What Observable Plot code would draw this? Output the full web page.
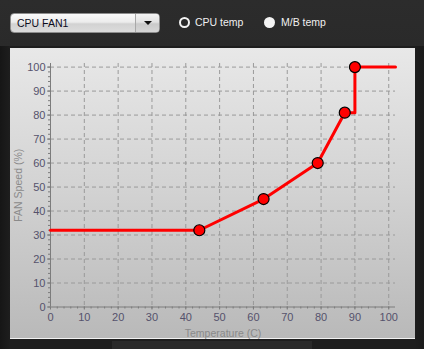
<!DOCTYPE html>
<html>
<head>
<meta charset="utf-8">
<script src="https://cdn.jsdelivr.net/npm/d3@7"></script>
<script src="https://cdn.jsdelivr.net/npm/@observablehq/plot@0.6"></script>
<style>
  html, body { margin: 0; padding: 0; }
  body {
    width: 424px; height: 349px; overflow: hidden; position: relative;
    background: linear-gradient(90deg, #161616 0px, #1e1e1e 10px, #1e1e1e 415px, #1a1a1a 424px);
    font-family: "Liberation Sans", Arial, sans-serif;
  }
  #top {
    position: absolute; left: 0; top: 0; width: 424px; height: 46px;
    background: linear-gradient(#2c2c2c, #2a2a2a);
  }
  #bottomStrip {
    position: absolute; left: 112px; top: 341px; width: 200px; height: 8px; background: #2a2a2a;
  }
  #combo {
    position: absolute; left: 10px; top: 13px; width: 150px; height: 20px;
    box-sizing: border-box; border: 1px solid #8d8d8d; border-radius: 4px;
    background: linear-gradient(#fbfbfb, #ececec 45%, #d2d2d2 55%, #dcdcdc);
    overflow: hidden;
  }
  #combo .label {
    position: absolute; left: 6px; top: 2px; font-size: 10.5px; color: #0c0c1c; line-height: 14px;
  }
  #combo .btn {
    position: absolute; left: 124px; top: 0; width: 25px; height: 18px;
    border-left: 1px solid #a8a8a8;
    background: linear-gradient(#f4f4f4, #e2e2e2 45%, #cacaca 55%, #d6d6d6);
  }
  #combo .arrow {
    position: absolute; left: 8px; top: 7px; width: 0; height: 0;
    border-left: 4px solid transparent; border-right: 4px solid transparent; border-top: 4px solid #111;
  }
  .radio {
    position: absolute; top: 17px; width: 11px; height: 11px; border-radius: 50%; box-sizing: border-box;
  }
  #r1 { left: 179px; border: 2px solid #f4f4f4; background: #2b2b2b; }
  #r2 { left: 264px; background: #f4f4f4; }
  .rlabel { position: absolute; top: 15px; font-size: 10.5px; color: #f0f0f0; line-height: 14px; }
  #panel {
    position: absolute; left: 10px; top: 48px; width: 405px; height: 290px;
    background: linear-gradient(#e8e8e8, #d2d2d2 50%, #b9b9b9);
    border-bottom: 1px solid #f2f2f2;
  }
  #panel svg { display: block; }
</style>
</head>
<body>
<div id="top"></div>
<div id="bottomStrip"></div>
<div id="combo"><span class="label">CPU FAN1</span><div class="btn"><div class="arrow"></div></div></div>
<div class="radio" id="r1"></div><span class="rlabel" style="left:195px">CPU temp</span>
<div class="radio" id="r2"></div><span class="rlabel" style="left:281px">M/B temp</span>
<div id="panel"></div>
<script>
// Fan curve control points (temperature °C, fan speed %)
const pointTemps = [44, 63, 79, 87, 90];
const pointSpeeds = [32, 45, 60, 81, 100];

// The drawn curve: flat start, the control points, a step up to 100 %, flat end
const curveTemps = [0, 44, 63, 79, 87, 90, 90, 102];
const curveSpeeds = [32, 32, 45, 60, 81, 81, 100, 100];

// Axis ticks
const majorTicks = [0, 10, 20, 30, 40, 50, 60, 70, 80, 90, 100];
const gridTicks = [10, 20, 30, 40, 50, 60, 70, 80, 90, 100];
const minorTicks = d3.range(0, 101, 2);

const xLabel = "Temperature (C)";
const yLabel = "FAN Speed (%)";

const points = pointTemps.map((t, i) => ({temp: t, speed: pointSpeeds[i]}));
const curve = curveTemps.map((t, i) => ({temp: t, speed: curveSpeeds[i]}));

const axisColor = "#7c7c7c";
const tickText = "#55526c";
const labelText = "#8a8a8a";
const gridStyle = {stroke: "#9a9a9a", strokeOpacity: 1, strokeDasharray: "4,3"};

const chart = Plot.plot({
  width: 405,
  height: 290,
  marginLeft: 40,
  marginRight: 20,
  marginTop: 15,
  marginBottom: 31.5,
  x: {domain: [0, 102]},
  y: {domain: [0, 101.5]},
  style: {background: "transparent", fontFamily: "Liberation Sans, Arial, sans-serif", fontSize: "11px", overflow: "visible"},
  marks: [
    Plot.gridX(gridTicks, gridStyle),
    Plot.gridY(gridTicks, gridStyle),
    Plot.axisX(minorTicks, {tickSize: 2, text: null, label: null, stroke: axisColor}),
    Plot.axisY(minorTicks, {tickSize: 2, text: null, label: null, stroke: axisColor}),
    Plot.axisX(majorTicks, {tickSize: 3, tickPadding: 3, stroke: axisColor, fill: tickText, label: null}),
    Plot.axisY(majorTicks, {tickSize: 3, tickPadding: 2, stroke: axisColor, fill: tickText, label: null}),
    Plot.axisX([], {label: xLabel, labelAnchor: "center", labelArrow: "none", labelOffset: 30, fill: labelText, tickSize: 0, fontSize: 10.5}),
    Plot.axisY([], {label: yLabel, labelAnchor: "center", labelArrow: "none", labelOffset: 36, fill: labelText, tickSize: 0, fontSize: 10.5}),
    Plot.ruleX([0], {stroke: axisColor}),
    Plot.ruleY([0], {stroke: axisColor}),
    Plot.line(curve, {x: "temp", y: "speed", stroke: "#ff0000", strokeWidth: 3, curve: "linear"}),
    Plot.dot(points, {x: "temp", y: "speed", r: 5.5, fill: "#ff0000", stroke: "#000000", strokeWidth: 1.2})
  ]
});

document.getElementById("panel").appendChild(chart);
</script>
</body>
</html>
